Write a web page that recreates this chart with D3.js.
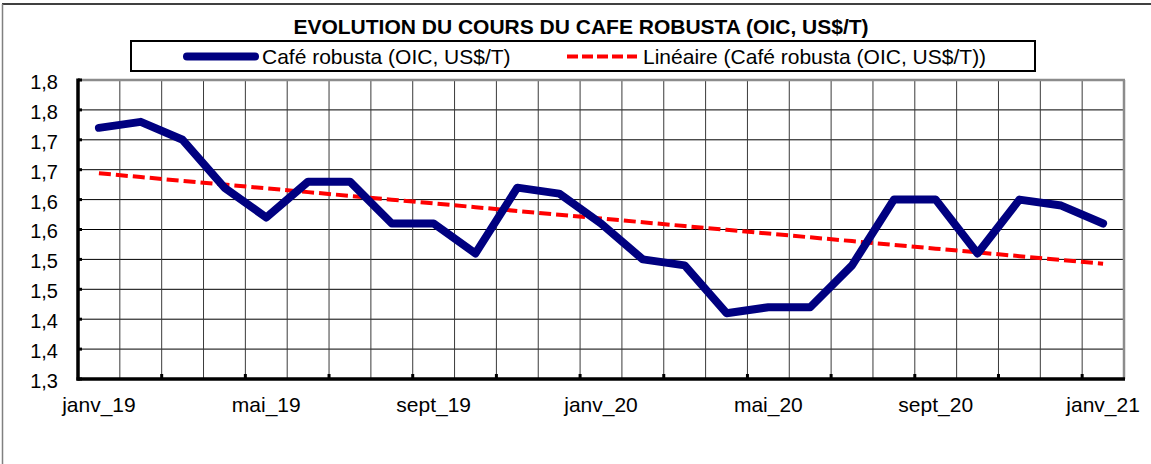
<!DOCTYPE html>
<html>
<head>
<meta charset="utf-8">
<script src="https://cdn.jsdelivr.net/npm/d3@7"></script>
<style>
  html, body { margin: 0; padding: 0; background: #fff; }
  svg { display: block; font-family: "Liberation Sans", Arial, sans-serif; }
</style>
</head>
<body>
<svg id="chart" width="1151" height="464"></svg>
<script>
const title = "EVOLUTION DU COURS DU CAFE ROBUSTA (OIC, US$/T)";
const seriesName = "Café robusta (OIC, US$/T)";
const trendName = "Linéaire (Café robusta (OIC, US$/T))";
const months = ["janv_19","févr_19","mars_19","avr_19","mai_19","juin_19","juil_19","août_19","sept_19","oct_19","nov_19","déc_19",
                "janv_20","févr_20","mars_20","avr_20","mai_20","juin_20","juil_20","août_20","sept_20","oct_20","nov_20","déc_20","janv_21"];
const prices = [1.72,1.73,1.70,1.62,1.57,1.63,1.63,1.56,1.56,1.51,1.62,1.61,
                1.56,1.50,1.49,1.41,1.42,1.42,1.49,1.60,1.60,1.51,1.60,1.59,1.56];
const xLabelMonths = ["janv_19","mai_19","sept_19","janv_20","mai_20","sept_20","janv_21"];
const xTickMonths = ["mars_19","mai_19","juil_19","sept_19","nov_19","janv_20","mars_20","mai_20","juil_20","sept_20","nov_20","janv_21"];
const yTickValues = [1.30,1.35,1.40,1.45,1.50,1.55,1.60,1.65,1.70,1.75,1.80];
const yTickLabels = ["1,3","1,4","1,4","1,5","1,5","1,6","1,6","1,7","1,7","1,8","1,8"];

const svg = d3.select("#chart");
const L = 78, R = 1124, T = 80, B = 379;

const x = d3.scaleBand().domain(months).range([L, R]).padding(0);
const y = d3.scaleLinear().domain([1.3, 1.8]).range([B, T]);
const bw = x.bandwidth();
const cx = m => x(m) + bw / 2;

// linear trend (least squares) from the series
const n = prices.length;
const xs = d3.range(n);
const mx = d3.mean(xs), my = d3.mean(prices);
const slope = d3.sum(xs, i => (i - mx) * (prices[i] - my)) / d3.sum(xs, i => (i - mx) * (i - mx));
const icpt = my - slope * mx;
const trend = months.map((m, i) => ({ m, v: icpt + slope * i }));

// outer chart frame (cropped)
svg.append("line").attr("x1", 2).attr("x2", 1151).attr("y1", 4).attr("y2", 4)
  .attr("stroke", "#000").attr("stroke-width", 1.5);
svg.append("line").attr("x1", 2.5).attr("x2", 2.5).attr("y1", 4).attr("y2", 464)
  .attr("stroke", "#808080").attr("stroke-width", 1.5);

// title
svg.append("text").attr("x", 581).attr("y", 34).attr("text-anchor", "middle")
  .attr("font-weight", "bold").attr("font-size", 21).attr("fill", "#000").text(title);

// legend
const lg = svg.append("g");
lg.append("rect").attr("x", 131).attr("y", 41).attr("width", 904).attr("height", 30)
  .attr("fill", "#fff").attr("stroke", "#000").attr("stroke-width", 2);
lg.append("line").attr("x1", 187).attr("x2", 255).attr("y1", 56.5).attr("y2", 56.5)
  .attr("stroke", "#000080").attr("stroke-width", 8).attr("stroke-linecap", "round");
lg.append("text").attr("x", 262).attr("y", 63.5).attr("font-size", 21).text(seriesName);
lg.append("line").attr("x1", 567).attr("x2", 637).attr("y1", 56.5).attr("y2", 56.5)
  .attr("stroke", "#ff0000").attr("stroke-width", 4).attr("stroke-dasharray", "11 4");
lg.append("text").attr("x", 643).attr("y", 63.5).attr("font-size", 21).text(trendName);

// grid
const grid = svg.append("g");
grid.selectAll("line.h").data(yTickValues.slice(1, -1)).join("line").attr("class", "h")
  .attr("x1", L).attr("x2", R).attr("y1", d => y(d)).attr("y2", d => y(d))
  .attr("stroke", "#000").attr("stroke-width", 1);
grid.selectAll("line.v").data(months.slice(1)).join("line").attr("class", "v")
  .attr("x1", d => x(d)).attr("x2", d => x(d)).attr("y1", T).attr("y2", B)
  .attr("stroke", "#3a3a3a").attr("stroke-width", 1);

// plot border (top/right grey)
svg.append("line").attr("x1", L).attr("x2", R + 1).attr("y1", T).attr("y2", T)
  .attr("stroke", "#8c8c8c").attr("stroke-width", 2.5);
svg.append("line").attr("x1", R).attr("x2", R).attr("y1", T).attr("y2", B)
  .attr("stroke", "#8c8c8c").attr("stroke-width", 2.5);

// trend line
svg.append("path").datum(trend)
  .attr("d", d3.line().x(d => cx(d.m)).y(d => y(d.v)))
  .attr("fill", "none").attr("stroke", "#ff0000").attr("stroke-width", 4)
  .attr("stroke-dasharray", "12 5");

// series line
svg.append("path").datum(months.map((m, i) => ({ m, v: prices[i] })))
  .attr("d", d3.line().x(d => cx(d.m)).y(d => y(d.v)))
  .attr("fill", "none").attr("stroke", "#000080").attr("stroke-width", 8)
  .attr("stroke-linejoin", "round").attr("stroke-linecap", "round");

// y axis
const yAxis = d3.axisLeft(y).tickValues(yTickValues)
  .tickFormat((d, i) => yTickLabels[i]).tickSize(0).tickPadding(20);
const gy = svg.append("g").attr("transform", `translate(${L},0)`).call(yAxis);
gy.select(".domain").remove();
gy.selectAll("text").attr("font-size", 20).attr("font-family", "Liberation Sans, Arial, sans-serif")
  .attr("fill", "#000").attr("dy", "0.42em");
// y tick marks (inside)
svg.append("g").selectAll("rect").data(yTickValues).join("rect")
  .attr("x", L).attr("y", d => y(d) - 1.5).attr("width", 4).attr("height", 3).attr("fill", "#000");
svg.append("line").attr("x1", L).attr("x2", L).attr("y1", T - 1.5).attr("y2", B + 1.5)
  .attr("stroke", "#000").attr("stroke-width", 3.5);

// x axis labels
const xAxis = d3.axisBottom(x).tickValues(xLabelMonths).tickSize(0).tickPadding(18);
const gx = svg.append("g").attr("transform", `translate(0,${B})`).call(xAxis);
gx.select(".domain").remove();
gx.selectAll("text").attr("font-size", 21).attr("font-family", "Liberation Sans, Arial, sans-serif")
  .attr("fill", "#000");
// x tick marks
svg.append("g").selectAll("rect").data(xTickMonths).join("rect")
  .attr("x", d => x(d) - 1.5).attr("y", B - 5).attr("width", 3).attr("height", 5).attr("fill", "#000");
svg.append("line").attr("x1", L - 1.5).attr("x2", R + 1).attr("y1", B).attr("y2", B)
  .attr("stroke", "#000").attr("stroke-width", 3.5);
</script>
</body>
</html>
